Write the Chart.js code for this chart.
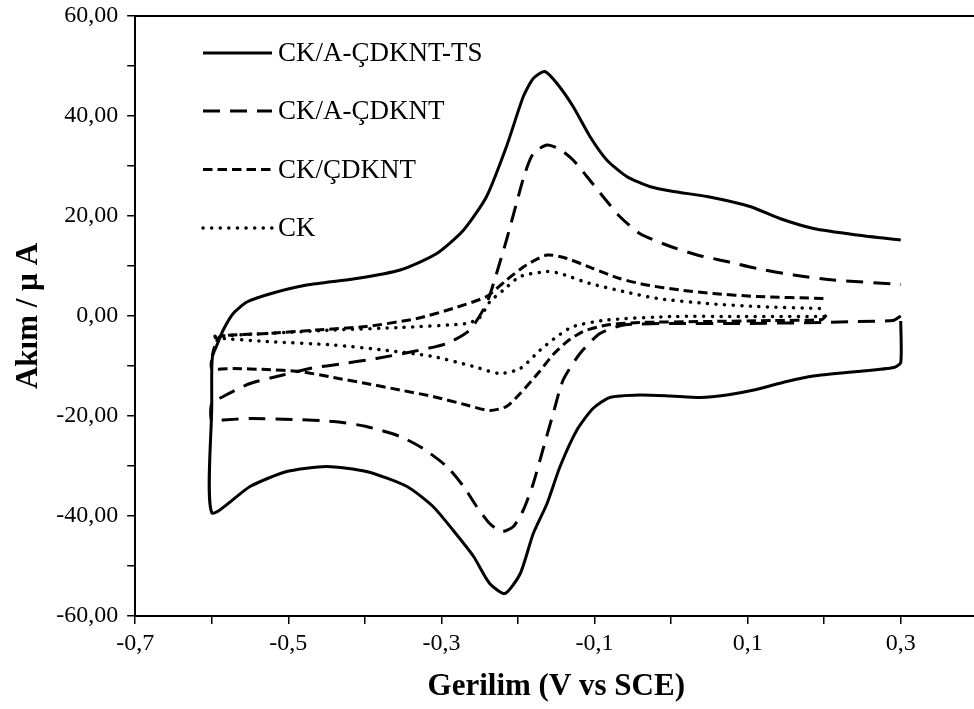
<!DOCTYPE html>
<html>
<head>
<meta charset="utf-8">
<script src="https://cdn.jsdelivr.net/npm/chart.js@4.4.1/dist/chart.umd.min.js"></script>
<style>
  html, body { margin: 0; padding: 0; background: #fff; overflow: hidden; }
  #cv { display: block; }
</style>
</head>
<body>
<canvas id="cv" width="990" height="709"></canvas>
<script>
// cyclic voltammograms, potential (V vs SCE) and current (µA), in sweep order
const tsV = [0.300, 0.300, 0.291, 0.243, 0.186, 0.151, 0.108, 0.073, 0.038, -0.001,
  -0.041, -0.080, -0.102, -0.123, -0.145, -0.162, -0.180, -0.197, -0.217, -0.237,
  -0.258, -0.285, -0.311, -0.345, -0.398, -0.450, -0.502, -0.550, -0.600, -0.600,
  -0.600, -0.599, -0.594, -0.585, -0.572, -0.554, -0.520, -0.476, -0.411, -0.354,
  -0.306, -0.271, -0.241, -0.215, -0.193, -0.180, -0.165, -0.149, -0.128, -0.106,
  -0.084, -0.058, -0.028, 0.003, 0.047, 0.103, 0.142, 0.186, 0.243, 0.300];
const tsI = [-1.0, -9.3, -10.3, -11.1, -12.0, -13.1, -14.8, -15.8, -16.3, -16.0,
  -15.8, -16.3, -18.5, -22.8, -30.1, -37.5, -43.5, -51.5, -55.5, -53.5,
  -48.1, -42.8, -38.1, -34.1, -31.1, -30.1, -31.1, -34.1, -39.3, -18.0,
  -11.0, -8.0, -6.1, -2.8, 0.5, 2.8, 4.6, 6.2, 7.5, 9.2,
  12.5, 17.2, 23.9, 33.9, 43.9, 47.5, 48.9, 46.5, 41.9, 35.9,
  31.2, 27.9, 25.9, 24.9, 23.9, 21.9, 19.5, 17.5, 16.2, 15.2];

const acdkntV = [0.300, 0.290, 0.243, 0.198, 0.090, 0.003, -0.062, -0.093, -0.119, -0.141,
  -0.154, -0.167, -0.180, -0.193, -0.206, -0.221, -0.237, -0.254, -0.271, -0.293,
  -0.324, -0.354, -0.398, -0.441, -0.494, -0.550, -0.585, -0.600, -0.600, -0.585,
  -0.550, -0.507, -0.472, -0.428, -0.385, -0.337, -0.293, -0.263, -0.241, -0.228,
  -0.215, -0.202, -0.191, -0.180, -0.162, -0.145, -0.128, -0.110, -0.089, -0.067,
  -0.041, -0.006, 0.034, 0.073, 0.112, 0.160, 0.212, 0.300];
const acdkntI = [0.0, -0.9, -1.1, -1.3, -1.5, -1.5, -1.8, -3.5, -7.5, -12.8,
  -19.5, -26.5, -33.5, -38.8, -42.1, -43.1, -41.5, -38.1, -34.1, -30.1,
  -26.5, -24.1, -22.1, -21.1, -20.7, -20.5, -20.8, -21.0, -17.5, -16.1,
  -13.5, -11.8, -10.5, -9.5, -8.5, -7.1, -5.5, -2.8, 2.5, 8.5,
  15.2, 22.5, 28.5, 32.5, 34.2, 33.3, 31.2, 27.9, 23.9, 19.9,
  16.5, 14.2, 12.2, 10.9, 9.5, 8.2, 7.2, 6.3];

const cdkntV = [0.203, 0.197, 0.134, 0.047, -0.041, -0.084, -0.115, -0.135, -0.154, -0.173,
  -0.197, -0.215, -0.237, -0.267, -0.311, -0.354, -0.398, -0.441, -0.485, -0.528,
  -0.572, -0.600, -0.600, -0.596, -0.589, -0.528, -0.463, -0.398, -0.332, -0.285,
  -0.241, -0.215, -0.189, -0.162, -0.136, -0.102, -0.067, -0.032, 0.012, 0.055,
  0.112, 0.200];
const cdkntI = [0.2, -0.7, -0.9, -1.1, -1.3, -1.8, -3.1, -5.0, -7.7, -11.3,
  -15.5, -18.1, -18.9, -17.8, -16.1, -14.8, -13.5, -12.3, -11.1, -10.7,
  -10.5, -10.5, -8.5, -6.0, -4.1, -3.5, -2.8, -2.1, -0.5, 1.5,
  3.9, 7.2, 10.2, 12.2, 11.5, 9.5, 7.5, 6.2, 5.2, 4.5,
  3.9, 3.5];

const ckV = [0.200, 0.090, 0.003, -0.084, -0.128, -0.149, -0.171, -0.197, -0.224, -0.258,
  -0.311, -0.376, -0.441, -0.528, -0.600, -0.600, -0.528, -0.441, -0.354, -0.267,
  -0.250, -0.237, -0.219, -0.197, -0.162, -0.145, -0.106, -0.062, -0.018, 0.047,
  0.112, 0.197];
const ckI = [-0.1, -0.1, -0.1, -0.8, -2.1, -4.1, -6.8, -10.5, -11.5, -10.1,
  -8.1, -6.8, -5.8, -5.1, -4.3, -4.1, -3.5, -2.8, -2.3, -1.5,
  -0.3, 2.8, 5.2, 7.9, 8.9, 8.5, 6.5, 4.9, 3.5, 2.5,
  1.9, 1.5];

const seriesNames = ['CK/A-ÇDKNT-TS', 'CK/A-ÇDKNT', 'CK/ÇDKNT', 'CK'];

const xMin = -0.7, xMax = 0.4, xStep = 0.1;
const yMin = -60, yMax = 60, yStep = 10;

const FONT = '"Liberation Serif", "Times New Roman", serif';

function pts(xs, ys) {
  return xs.map((x, i) => ({ x: x, y: ys[i] }));
}

// legend sits inside the plot, upper left
const legendRows = [53, 111, 169.5, 228];
const cvLegend = {
  id: 'cvLegend',
  afterDraw(chart) {
    const ctx = chart.ctx;
    const area = chart.chartArea;
    ctx.save();
    ctx.strokeStyle = '#000';
    ctx.fillStyle = '#000';
    // top edge of the plot frame
    ctx.lineWidth = 2;
    ctx.beginPath();
    ctx.moveTo(area.left, area.top);
    ctx.lineTo(area.right, area.top);
    ctx.stroke();

    ctx.font = '27px ' + FONT;
    ctx.textBaseline = 'middle';
    chart.data.datasets.forEach((ds, i) => {
      const y = legendRows[i];
      ctx.beginPath();
      ctx.lineWidth = ds.borderWidth;
      ctx.lineCap = ds.borderCapStyle;
      ctx.setLineDash(ds.borderDash);
      ctx.moveTo(203, y);
      ctx.lineTo(272, y);
      ctx.stroke();
      ctx.setLineDash([]);
      ctx.fillText(ds.label, 278, y + 1);
    });
    ctx.restore();
  }
};

const common = {
  showLine: true,
  fill: false,
  pointRadius: 0,
  borderColor: '#000',
  borderWidth: 3,
  tension: 0.22
};

new Chart(document.getElementById('cv'), {
  type: 'scatter',
  data: {
    datasets: [
      Object.assign({}, common, { label: seriesNames[0], data: pts(tsV, tsI), borderDash: [], borderCapStyle: 'butt' }),
      Object.assign({}, common, { label: seriesNames[1], data: pts(acdkntV, acdkntI), borderDash: [17, 10], borderCapStyle: 'butt' }),
      Object.assign({}, common, { label: seriesNames[2], data: pts(cdkntV, cdkntI), borderDash: [9.5, 5], borderCapStyle: 'butt' }),
      Object.assign({}, common, { label: seriesNames[3], data: pts(ckV, ckI), borderDash: [0.1, 8.5], borderCapStyle: 'round', borderWidth: 3.5 })
    ]
  },
  options: {
    responsive: false,
    animation: false,
    layout: { padding: { left: 0, top: 16, right: 12.7, bottom: 0 } },
    plugins: {
      legend: { display: false },
      tooltip: { enabled: false }
    },
    scales: {
      x: {
        type: 'linear',
        min: xMin, max: xMax,
        afterFit(scale) {
          scale.height = 93;
          scale.paddingLeft = 0;
          scale.paddingRight = 0;
        },
        border: { display: true, color: '#000', width: 2 },
        grid: { drawOnChartArea: false, drawTicks: true, tickLength: 8, color: '#000', lineWidth: 1.5 },
        ticks: {
          stepSize: xStep,
          color: '#000',
          padding: 5,
          maxRotation: 0,
          autoSkip: false,
          font: { family: FONT, size: 24 },
          callback(v) {
            const k = Math.round(v * 10);
            if (Math.abs(k % 2) !== 1 || k > 3) return '';
            return (k / 10).toFixed(1).replace('.', ',');
          }
        },
        title: {
          display: true,
          text: 'Gerilim (V vs SCE)',
          color: '#000',
          font: { family: FONT, size: 31, weight: 'bold' },
          padding: { top: 0, bottom: 3 }
        }
      },
      y: {
        type: 'linear',
        min: yMin, max: yMax,
        afterFit(scale) {
          scale.width = 135.2;
          scale.paddingTop = 0;
          scale.paddingBottom = 0;
        },
        border: { display: true, color: '#000', width: 2 },
        grid: { drawOnChartArea: false, drawTicks: true, tickLength: 8, color: '#000', lineWidth: 1.5 },
        ticks: {
          stepSize: yStep,
          color: '#000',
          padding: 9,
          autoSkip: false,
          font: { family: FONT, size: 24 },
          callback(v) {
            if (Math.round(v) % 20 !== 0) return '';
            return v.toFixed(2).replace('.', ',');
          }
        },
        title: {
          display: true,
          text: 'Akım / µ A',
          color: '#000',
          font: { family: FONT, size: 31, weight: 'bold' },
          padding: { top: 10, bottom: 0 }
        }
      }
    }
  },
  plugins: [cvLegend]
});
</script>
</body>
</html>
